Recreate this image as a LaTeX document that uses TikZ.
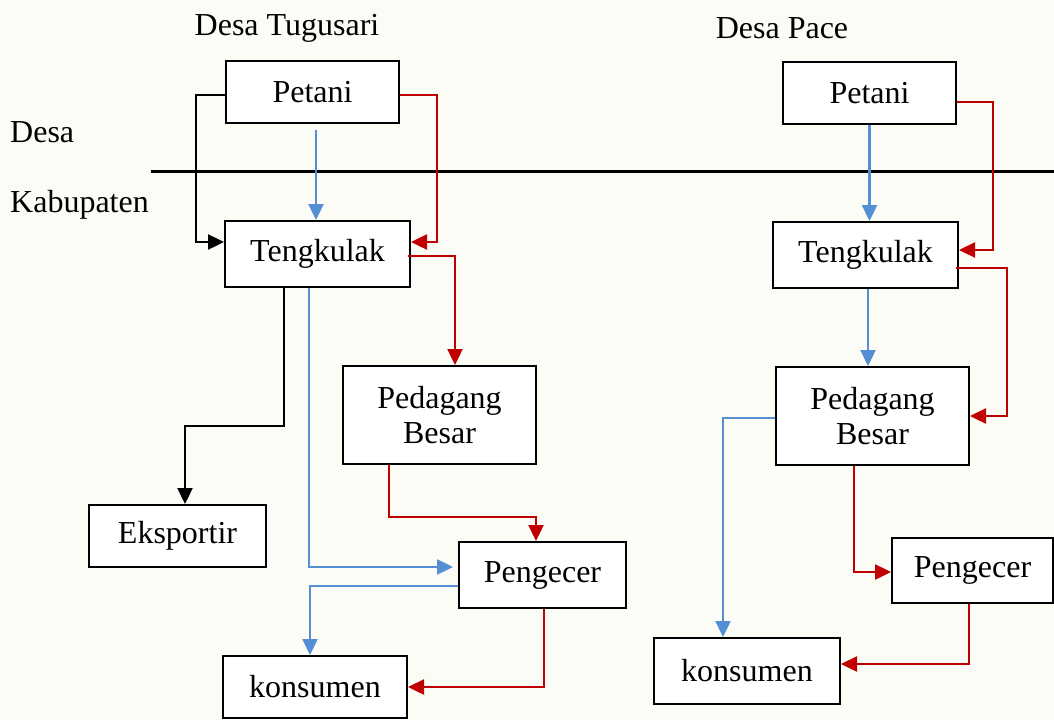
\documentclass[tikz,border=0pt]{standalone}
\usepackage{fontspec}
\setmainfont{Liberation Serif}
\usetikzlibrary{arrows.meta}
\definecolor{flowblue}{RGB}{85,142,213}
\definecolor{flowred}{RGB}{192,0,0}
\definecolor{paper}{RGB}{252,252,247}
\begin{document}
\begin{tikzpicture}[x=1pt,y=-1pt,
  txt/.style={font=\fontsize{32}{35}\selectfont},
  box/.style={txt,draw=black,line width=2pt,fill=white,inner sep=0pt,align=center},
  lbl/.style={txt,inner sep=0pt},
  flow/.style={line width=2.4pt,-{Triangle[length=16pt,width=15pt]}},
  blk/.style={flow,draw=black},
  blu/.style={flow,draw=flowblue},
  rd/.style={flow,draw=flowred}]

% page
\fill[paper] (0,0) rectangle (1054,720);
\useasboundingbox (0,0) rectangle (1054,720);

% headings and level labels
\node[lbl] (hA) at (287,28) {Desa Tugusari};
\node[lbl] (hB) at (782,28) {Desa Pace};
\node[lbl,anchor=west] (lvDesa) at (10,132) {Desa};
\node[lbl,anchor=west] (lvKab) at (10,205) {Kabupaten};

% boundary between village and regency
\coordinate (sepL) at (151,171);
\coordinate (sepR) at (1054,171);
\draw[line width=3pt] (sepL) -- (sepR);

% Desa Tugusari chain
\node[box,minimum width=173pt,minimum height=62pt] (petaniA) at (312.5,92) {Petani};
\node[box,minimum width=185pt,minimum height=66pt] (tengA) at (317.5,254) {Tengkulak};
\node[box,minimum width=193pt,minimum height=98pt] (pbA) at (439.5,415) {Pedagang\\Besar};
\node[box,minimum width=177pt,minimum height=62pt] (ekspor) at (177.5,536) {Eksportir};
\node[box,minimum width=167pt,minimum height=66pt] (pengA) at (542.5,575) {Pengecer};
\node[box,minimum width=184pt,minimum height=62pt] (konsA) at (315,687) {konsumen};

% Desa Pace chain
\node[box,minimum width=173pt,minimum height=62pt] (petaniB) at (869.5,93) {Petani};
\node[box,minimum width=185pt,minimum height=66pt] (tengB) at (865.5,255) {Tengkulak};
\node[box,minimum width=193pt,minimum height=98pt] (pbB) at (872.5,416) {Pedagang\\Besar};
\node[box,minimum width=161pt,minimum height=65pt] (pengB) at (972.5,570.5) {Pengecer};
\node[box,minimum width=186pt,minimum height=66pt] (konsB) at (747,671) {konsumen};

% Desa Tugusari flows
\draw[blk] ([yshift=-3pt]petaniA.west) -- ++(-29,0) |- ([yshift=12pt]tengA.west);
\draw[blu] ([xshift=3.5pt,yshift=-6pt]petaniA.south) -- ([xshift=3.5pt]petaniA.south |- tengA.north);
\draw[rd] ([yshift=-3pt]petaniA.east) -- ++(37,0) |- ([yshift=12pt]tengA.east);
\draw[rd] ([xshift=-3pt,yshift=-2pt]tengA.east) -| ([xshift=15.5pt]pbA.north);
\draw[blu] ([xshift=-8.5pt]tengA.south) |- ([xshift=-5pt,yshift=8pt]pengA.west);
\draw[blk] ([xshift=-33.5pt]tengA.south) -- ++(0,138) -| ([xshift=7.5pt]ekspor.north);
\draw[rd] ([xshift=-50.5pt]pbA.south) -- ++(0,52) -| ([xshift=-6.5pt]pengA.north);
\draw[blu] ([yshift=-11pt]pengA.west) -| ([xshift=-5pt]konsA.north);
\draw[rd] ([xshift=1.5pt]pengA.south) |- (konsA.east);

% Desa Pace flows
\draw[blu] (petaniB.south) -- (petaniB.south |- tengB.north);
\draw[rd] ([yshift=-9pt]petaniB.east) -- ++(36,0) |- ([yshift=5pt]tengB.east);
\draw[rd] ([xshift=-3pt,yshift=-13pt]tengB.east) -- ++(51,0) |- (pbB.east);
\draw[blu] ([xshift=2.5pt]tengB.south) -- ([xshift=2.5pt]tengB.south |- pbB.north);
\draw[blu] ([yshift=-2pt]pbB.west) -| ([xshift=-24pt]konsB.north);
\draw[rd] ([xshift=-18.5pt]pbB.south) |- ([yshift=-1.5pt]pengB.west);
\draw[rd] ([xshift=-3.5pt]pengB.south) |- ([yshift=7pt]konsB.east);
\end{tikzpicture}
\end{document}
